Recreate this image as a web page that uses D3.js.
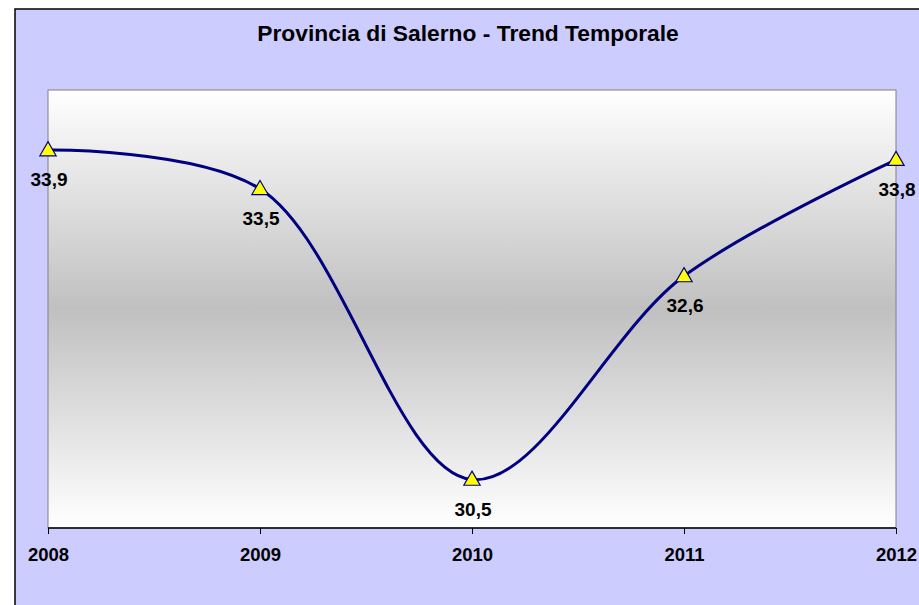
<!DOCTYPE html>
<html>
<head>
<meta charset="utf-8">
<script src="https://cdn.jsdelivr.net/npm/d3@7"></script>
<style>
  html, body { margin: 0; padding: 0; background: #ffffff; }
  svg { display: block; font-family: Arial, "Liberation Sans", sans-serif; }
</style>
</head>
<body>
<svg id="svg1" width="919" height="605"></svg>
<script>
// data
var years = ['2008', '2009', '2010', '2011', '2012'];
var values = [33.9, 33.5, 30.5, 32.6, 33.8];
var valueLabels = ['33,9', '33,5', '30,5', '32,6', '33,8'];
var yMin = 30;
var yMax = 34.52;

var svg = d3.select('#svg1');

// plot area box
var plotLeft = 48, plotTop = 90, plotRight = 896, plotBottom = 528;

// outer chart panel (runs off the right and bottom edges)
svg.append('rect')
    .attr('x', 15)
    .attr('y', 9)
    .attr('width', 940)
    .attr('height', 640)
    .attr('fill', '#ccccff')
    .attr('stroke', '#000000')
    .attr('stroke-width', 1.5);

// title
svg.append('text')
    .attr('x', 468)
    .attr('y', 41)
    .attr('text-anchor', 'middle')
    .attr('font-weight', 'bold')
    .attr('font-size', '22.8px')
    .attr('fill', '#000000')
    .text('Provincia di Salerno - Trend Temporale');

// gradient white -> grey -> white
var defs = svg.append('defs');
var grad = defs.append('linearGradient')
    .attr('id', 'plotGrad')
    .attr('x1', 0).attr('y1', 0)
    .attr('x2', 0).attr('y2', 1);
grad.append('stop').attr('offset', '0%').attr('stop-color', '#ffffff');
grad.append('stop').attr('offset', '50%').attr('stop-color', '#c0c0c0');
grad.append('stop').attr('offset', '100%').attr('stop-color', '#ffffff');

svg.append('rect')
    .attr('x', plotLeft)
    .attr('y', plotTop)
    .attr('width', plotRight - plotLeft)
    .attr('height', plotBottom - plotTop)
    .attr('fill', 'url(#plotGrad)')
    .attr('stroke', '#808080')
    .attr('stroke-width', 1);

// scales
var x = d3.scalePoint()
    .domain(years)
    .range([plotLeft, plotRight]);

var y = d3.scaleLinear()
    .domain([yMin, yMax])
    .range([plotBottom, plotTop]);

// x axis
var xAxis = d3.axisBottom(x)
    .tickSize(6)
    .tickPadding(14);

var gx = svg.append('g')
    .attr('transform', 'translate(0,' + plotBottom + ')')
    .call(xAxis);

gx.select('.domain')
    .attr('stroke', '#000000')
    .attr('stroke-width', 1.5)
    .attr('d', 'M' + plotLeft + ',0H' + plotRight);
gx.selectAll('.tick line').attr('stroke', '#000000');
gx.selectAll('.tick text')
    .attr('font-family', 'Arial, "Liberation Sans", sans-serif')
    .attr('font-size', '18.5px')
    .attr('font-weight', 'bold')
    .attr('fill', '#000000');

// smoothed line
var line = d3.line()
    .x(function(d, i){ return x(years[i]); })
    .y(function(d){ return y(d); })
    .curve(d3.curveCatmullRom.alpha(0.5));

svg.append('path')
    .datum(values)
    .attr('d', line)
    .attr('fill', 'none')
    .attr('stroke', '#000080')
    .attr('stroke-width', 3);

// triangle markers
var tri = d3.symbol().type(d3.symbolTriangle).size(115);

svg.selectAll('.marker')
    .data(values)
    .enter()
    .append('path')
    .attr('class', 'marker')
    .attr('d', tri)
    .attr('transform', function(d, i){
        return 'translate(' + x(years[i]) + ',' + (y(d) + 1) + ')';
    })
    .attr('fill', '#ffff00')
    .attr('stroke', '#000080')
    .attr('stroke-width', 1.2);

// value labels
svg.selectAll('.vlabel')
    .data(values)
    .enter()
    .append('text')
    .attr('class', 'vlabel')
    .attr('x', function(d, i){ return x(years[i]) + 1; })
    .attr('y', function(d){ return y(d) + 36; })
    .attr('text-anchor', 'middle')
    .attr('font-weight', 'bold')
    .attr('font-size', '19px')
    .attr('fill', '#000000')
    .text(function(d, i){ return valueLabels[i]; });
</script>
</body>
</html>
